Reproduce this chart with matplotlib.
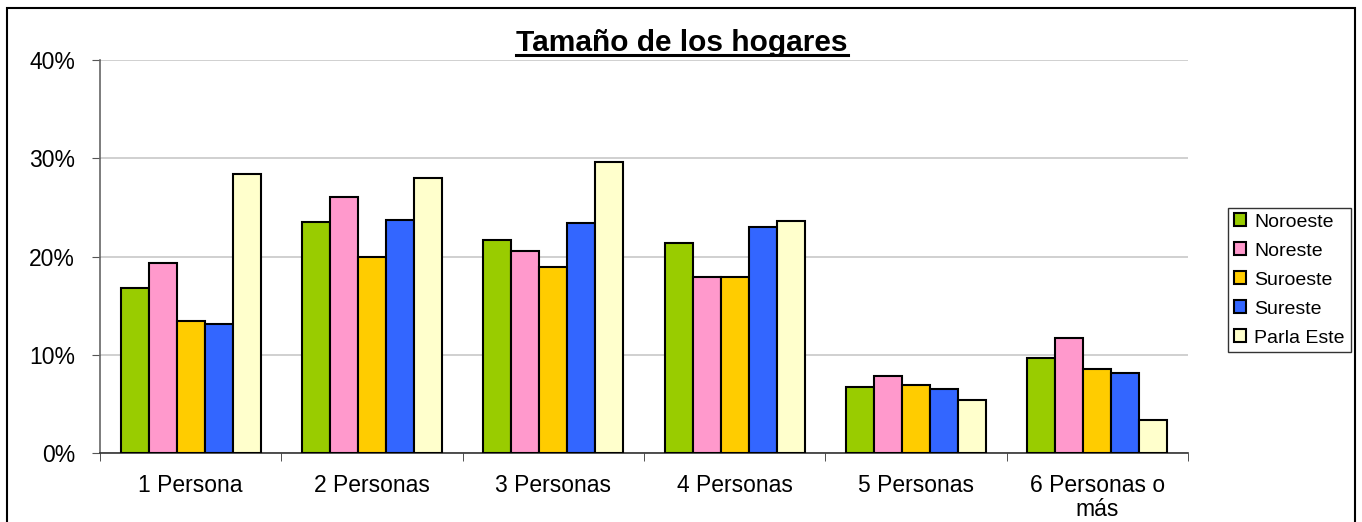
import matplotlib.pyplot as plt
import numpy as np
from matplotlib.patches import Rectangle
from matplotlib.lines import Line2D

plt.rcParams['font.family'] = ['Liberation Sans', 'DejaVu Sans']

# datos del grafico
categorias = ['1 Persona', '2 Personas', '3 Personas', '4 Personas',
              '5 Personas', '6 Personas o\nmás']
zonas = ['Noroeste', 'Noreste', 'Suroeste', 'Sureste', 'Parla Este']
noroeste = [16.8, 23.5, 21.7, 21.4, 6.7, 9.7]
noreste = [19.3, 26.1, 20.6, 17.9, 7.8, 11.7]
suroeste = [13.4, 20.0, 18.9, 17.9, 6.9, 8.5]
sureste = [13.1, 23.7, 23.4, 23.0, 6.5, 8.1]
parla_este = [28.4, 28.0, 29.6, 23.6, 5.4, 3.4]
colores = ['#99cc00', '#ff99cc', '#ffcc00', '#3366ff', '#ffffcc']

series = [noroeste, noreste, suroeste, sureste, parla_este]

fig = plt.figure(figsize=(13.62, 5.22), dpi=100)
ax = fig.add_axes([100/1362, 1-453/522, 1088/1362, 393/522])

x = np.arange(len(categorias))
w = 0.1544
for i, (serie, c, nombre) in enumerate(zip(series, colores, zonas)):
    ax.bar(x + (i-2)*w, serie, w, color=c, edgecolor='black', linewidth=1.5,
           label=nombre, zorder=3)

ax.set_xlim(-0.5, len(categorias)-0.5)
ax.set_ylim(0, 40)
ax.set_yticks([0, 10, 20, 30, 40])
ax.set_yticklabels(['0%', '10%', '20%', '30%', '40%'], fontsize=16.5)
ax.yaxis.grid(True, color='#c8c8c8', linewidth=1.2, zorder=0)
ax.set_xticks(x)
ax.set_xticklabels(categorias, fontsize=16.5, linespacing=1.05)
ax.set_xticks(np.arange(-0.5, len(categorias)), minor=True)
ax.tick_params(axis='x', which='major', length=0, pad=15)
ax.tick_params(axis='x', which='minor', length=6, color='#333333')
ax.tick_params(axis='y', length=6, color='#555555', pad=12)
for s in ['top', 'right']:
    ax.spines[s].set_visible(False)
ax.spines['left'].set_color('#666666')
ax.spines['bottom'].set_color('#333333')
ax.spines['left'].set_linewidth(1.2)
ax.spines['bottom'].set_linewidth(1.2)

leg = ax.legend(loc='center left', bbox_to_anchor=(1228/1362, 1-280/522),
                bbox_transform=fig.transFigure, fontsize=14, frameon=True,
                fancybox=False, edgecolor='black', handlelength=0.65,
                handleheight=0.65, handletextpad=0.4, labelspacing=0.6,
                borderpad=0.3, borderaxespad=0)
leg.get_frame().set_linewidth(1.0)

# titulo subrayado
t = fig.text(682/1362, 1-43/522, 'Tamaño de los hogares', ha='center',
             va='center', fontsize=21.5, fontweight='bold')
fig.canvas.draw()
bb = t.get_window_extent().transformed(fig.transFigure.inverted())
fig.add_artist(Line2D([bb.x0, bb.x1], [1-55/522, 1-55/522], color='black',
                      linewidth=2.2, transform=fig.transFigure))

# marco exterior
fig.add_artist(Rectangle((7/1362, -0.05), 1348/1362, 1.05-8/522, fill=False,
                         edgecolor='black', linewidth=1.5,
                         transform=fig.transFigure))

fig.savefig('out.png', dpi=100)
